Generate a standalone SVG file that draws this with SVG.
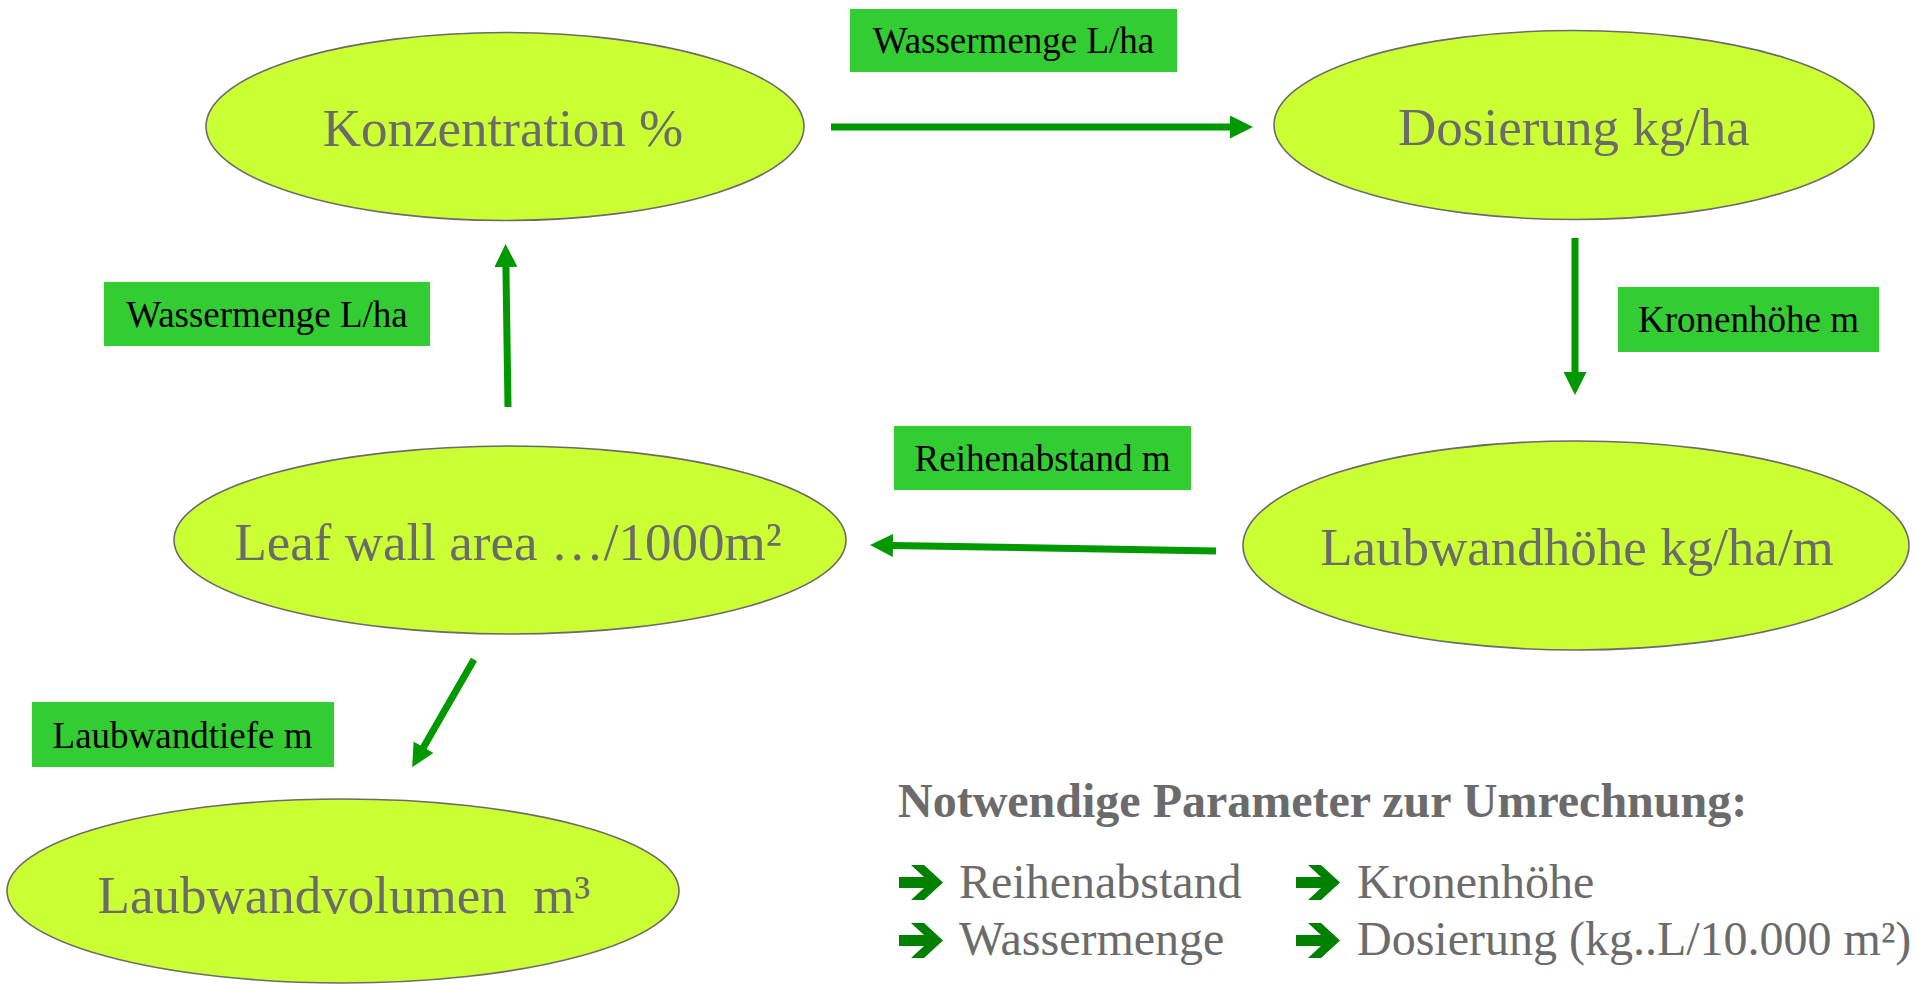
<svg xmlns="http://www.w3.org/2000/svg" width="1915" height="985" viewBox="0 0 1915 985">
<style>
.node ellipse{fill:#ccff33;stroke:#6b6b6b;stroke-width:1.6}
.ntext{font-family:"Liberation Serif","Times New Roman",serif;font-size:53px;fill:#6b6b6b;text-anchor:middle}
.lbl rect{fill:#33cc33}
.ltext{font-family:"Liberation Serif","Times New Roman",serif;font-size:37px;fill:#000;text-anchor:middle}
.conn{stroke:#009900;stroke-width:7;fill:none;marker-end:url(#ah)}
.head{font-family:"Liberation Serif","Times New Roman",serif;font-size:48px;font-weight:bold;fill:#6b6b6b}
.item{font-family:"Liberation Serif","Times New Roman",serif;font-size:48px;fill:#6b6b6b}
</style>
<defs>
<marker id="ah" markerUnits="userSpaceOnUse" markerWidth="24" markerHeight="24" refX="1" refY="11.5" orient="auto">
<path d="M0,0 L23,11.5 L0,23 z" fill="#009900"/>
</marker>
<symbol id="bullet" overflow="visible">
<polygon points="0,12 25,12 12,0 25,0 44,17.5 25,35 12,35 25,23 0,23" fill="#008000"/>
</symbol>
</defs>
<rect width="1915" height="985" fill="#fff"/>

<g id="connectors">
<line class="conn" x1="831" y1="127" x2="1231" y2="127"/>
<line class="conn" x1="1575" y1="238" x2="1575" y2="373"/>
<line class="conn" x1="1216" y1="551" x2="892" y2="545.4"/>
<line class="conn" x1="508" y1="407" x2="505.9" y2="266"/>
<line class="conn" x1="474" y1="659.5" x2="423.1" y2="748.1"/>
</g>

<g id="node-konzentration" class="node">
<ellipse cx="505" cy="126.5" rx="299" ry="94"/>
<text class="ntext" x="503" y="146">Konzentration %</text>
</g>
<g id="node-dosierung" class="node">
<ellipse cx="1574" cy="125" rx="300" ry="94.5"/>
<text class="ntext" x="1574" y="145">Dosierung kg/ha</text>
</g>
<g id="node-laubwandhoehe" class="node">
<ellipse cx="1576" cy="545.5" rx="333" ry="104.5"/>
<text class="ntext" x="1577" y="565">Laubwandhöhe kg/ha/m</text>
</g>
<g id="node-leafwall" class="node">
<ellipse cx="510" cy="540" rx="336" ry="94"/>
<text class="ntext" x="508" y="560">Leaf wall area …/1000m²</text>
</g>
<g id="node-laubwandvolumen" class="node">
<ellipse cx="343" cy="891" rx="336" ry="92"/>
<text class="ntext" x="344" y="913" xml:space="preserve">Laubwandvolumen  m³</text>
</g>

<g id="label-wassermenge-top" class="lbl">
<rect x="850" y="9" width="327" height="63"/>
<text class="ltext" x="1013.5" y="53">Wassermenge L/ha</text>
</g>
<g id="label-kronenhoehe" class="lbl">
<rect x="1618" y="287" width="261" height="65"/>
<text class="ltext" x="1748.5" y="332">Kronenhöhe m</text>
</g>
<g id="label-reihenabstand" class="lbl">
<rect x="894" y="426" width="297" height="64"/>
<text class="ltext" x="1042.5" y="471">Reihenabstand m</text>
</g>
<g id="label-wassermenge-left" class="lbl">
<rect x="104" y="282" width="326" height="64"/>
<text class="ltext" x="267" y="327">Wassermenge L/ha</text>
</g>
<g id="label-laubwandtiefe" class="lbl">
<rect x="32" y="702" width="302" height="65"/>
<text class="ltext" x="182.5" y="748">Laubwandtiefe m</text>
</g>

<g id="legend">
<text class="head" x="898" y="817">Notwendige Parameter zur Umrechnung:</text>
<use href="#bullet" x="899" y="865"/>
<text class="item" x="959" y="898">Reihenabstand</text>
<use href="#bullet" x="1296" y="865"/>
<text class="item" x="1357" y="898">Kronenhöhe</text>
<use href="#bullet" x="899" y="923"/>
<text class="item" x="959" y="955">Wassermenge</text>
<use href="#bullet" x="1296" y="923"/>
<text class="item" x="1357" y="955">Dosierung (kg..L/10.000 m²)</text>
</g>
</svg>
